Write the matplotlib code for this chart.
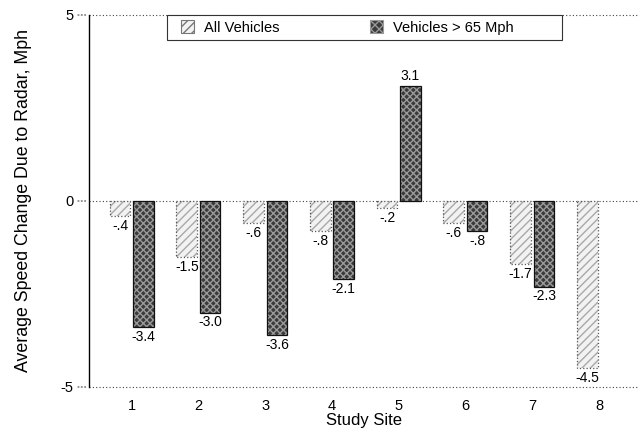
import numpy as np
import matplotlib
matplotlib.use("Agg")
import matplotlib.pyplot as plt
from matplotlib.patches import Patch, Rectangle
from matplotlib.legend import Legend

plt.rcParams["font.family"] = ["Liberation Sans", "DejaVu Sans"]

sites = [1, 2, 3, 4, 5, 6, 7, 8]
all_vehicles = [-0.4, -1.5, -0.6, -0.8, -0.2, -0.6, -1.7, -4.5]
fast_vehicles = [-3.4, -3.0, -3.6, -2.1, 3.1, -0.8, -2.3, np.nan]
all_labels = ["-.4", "-1.5", "-.6", "-.8", "-.2", "-.6", "-1.7", "-4.5"]
fast_labels = ["-3.4", "-3.0", "-3.6", "-2.1", "3.1", "-.8", "-2.3", ""]
series_names = ["All Vehicles", "Vehicles > 65 Mph"]

fig = plt.figure(figsize=(6.39, 4.34), dpi=100)
ax = fig.add_axes([89 / 639, 1 - 387 / 434, 550 / 639, 372 / 434])

x = np.array(sites, dtype=float)
w = 0.31
off = 0.175

light_fc, light_hatch = "#f2f2f2", "#a8a8a8"
dark_fc, dark_hatch = "#3a3a3a", "#9a9a9a"

# textured fill first, then outline on top
ax.bar(x - off, all_vehicles, w, color=light_fc, hatch="////", edgecolor=light_hatch, linewidth=0, zorder=2)
ax.bar(x - off, all_vehicles, w, fill=False, edgecolor="#555555", linestyle=":", linewidth=0.9, zorder=3)
ax.bar(x + off, fast_vehicles, w, color=dark_fc, hatch="xxxxx", edgecolor=dark_hatch, linewidth=0, zorder=2)
ax.bar(x + off, fast_vehicles, w, fill=False, edgecolor="#111111", linewidth=0.9, zorder=3)

lab_fs = 10
for xi, v, lab in zip(x - off, all_vehicles, all_labels):
    ax.annotate(lab, (xi, v), xytext=(0, -2), textcoords="offset points",
                ha="center", va="top", fontsize=lab_fs)
for xi, v, lab in zip(x + off, fast_vehicles, fast_labels):
    if np.isnan(v):
        continue
    if v >= 0:
        ax.annotate(lab, (xi, v), xytext=(0, 2), textcoords="offset points",
                    ha="center", va="bottom", fontsize=lab_fs)
    else:
        ax.annotate(lab, (xi, v), xytext=(0, -2), textcoords="offset points",
                    ha="center", va="top", fontsize=lab_fs)

ax.set_ylim(-5, 5)
ax.set_xlim(0.36, 8.6)
ax.set_yticks([-5, 0, 5])
ax.set_yticklabels(["-5", "0", "5"], fontsize=10.5)
ax.set_xticks(x)
ax.set_xticklabels([str(s) for s in sites], fontsize=10.5)
ax.tick_params(axis="x", length=0, pad=9)
ax.tick_params(axis="y", length=0, pad=11)

for yv in [-5, 0, 5]:
    ax.axhline(yv, color="#444444", linestyle=(0, (1, 2)), linewidth=0.8, zorder=1, clip_on=False)
    ax.annotate("", xy=(0, yv), xycoords=("axes fraction", "data"),
                xytext=(-10, 0), textcoords="offset points",
                arrowprops=dict(arrowstyle="-", color="#444444", linestyle=(0, (1, 2)), linewidth=0.8))

for s in ["top", "right", "bottom"]:
    ax.spines[s].set_visible(False)
ax.spines["left"].set_linewidth(1.0)

ax.set_xlabel("Study Site", fontsize=12, labelpad=0)
ax.set_ylabel("Average Speed Change Due to Radar, Mph", fontsize=12.8, labelpad=21)

# legend box: one framed strip with the two entries spread across it
ax.add_patch(Rectangle((0.142, 0.933), 0.718, 0.067, transform=ax.transAxes,
                       facecolor="white", edgecolor="#333333", linewidth=0.8,
                       zorder=5, clip_on=False))
handles = [
    Patch(facecolor=light_fc, edgecolor="#777777", hatch="////", linewidth=0.8),
    Patch(facecolor=dark_fc, edgecolor="#999999", hatch="xxxx", linewidth=0.8),
]
for h, name, xa in zip(handles, series_names, [0.167, 0.511]):
    leg = Legend(ax, [h], [name], loc="center left", bbox_to_anchor=(xa, 0.9665),
                 frameon=False, borderpad=0, borderaxespad=0, fontsize=10.5,
                 handlelength=0.9, handleheight=0.9, handletextpad=0.7)
    leg.set_zorder(6)
    ax.add_artist(leg)

fig.savefig("out.png", dpi=100)
